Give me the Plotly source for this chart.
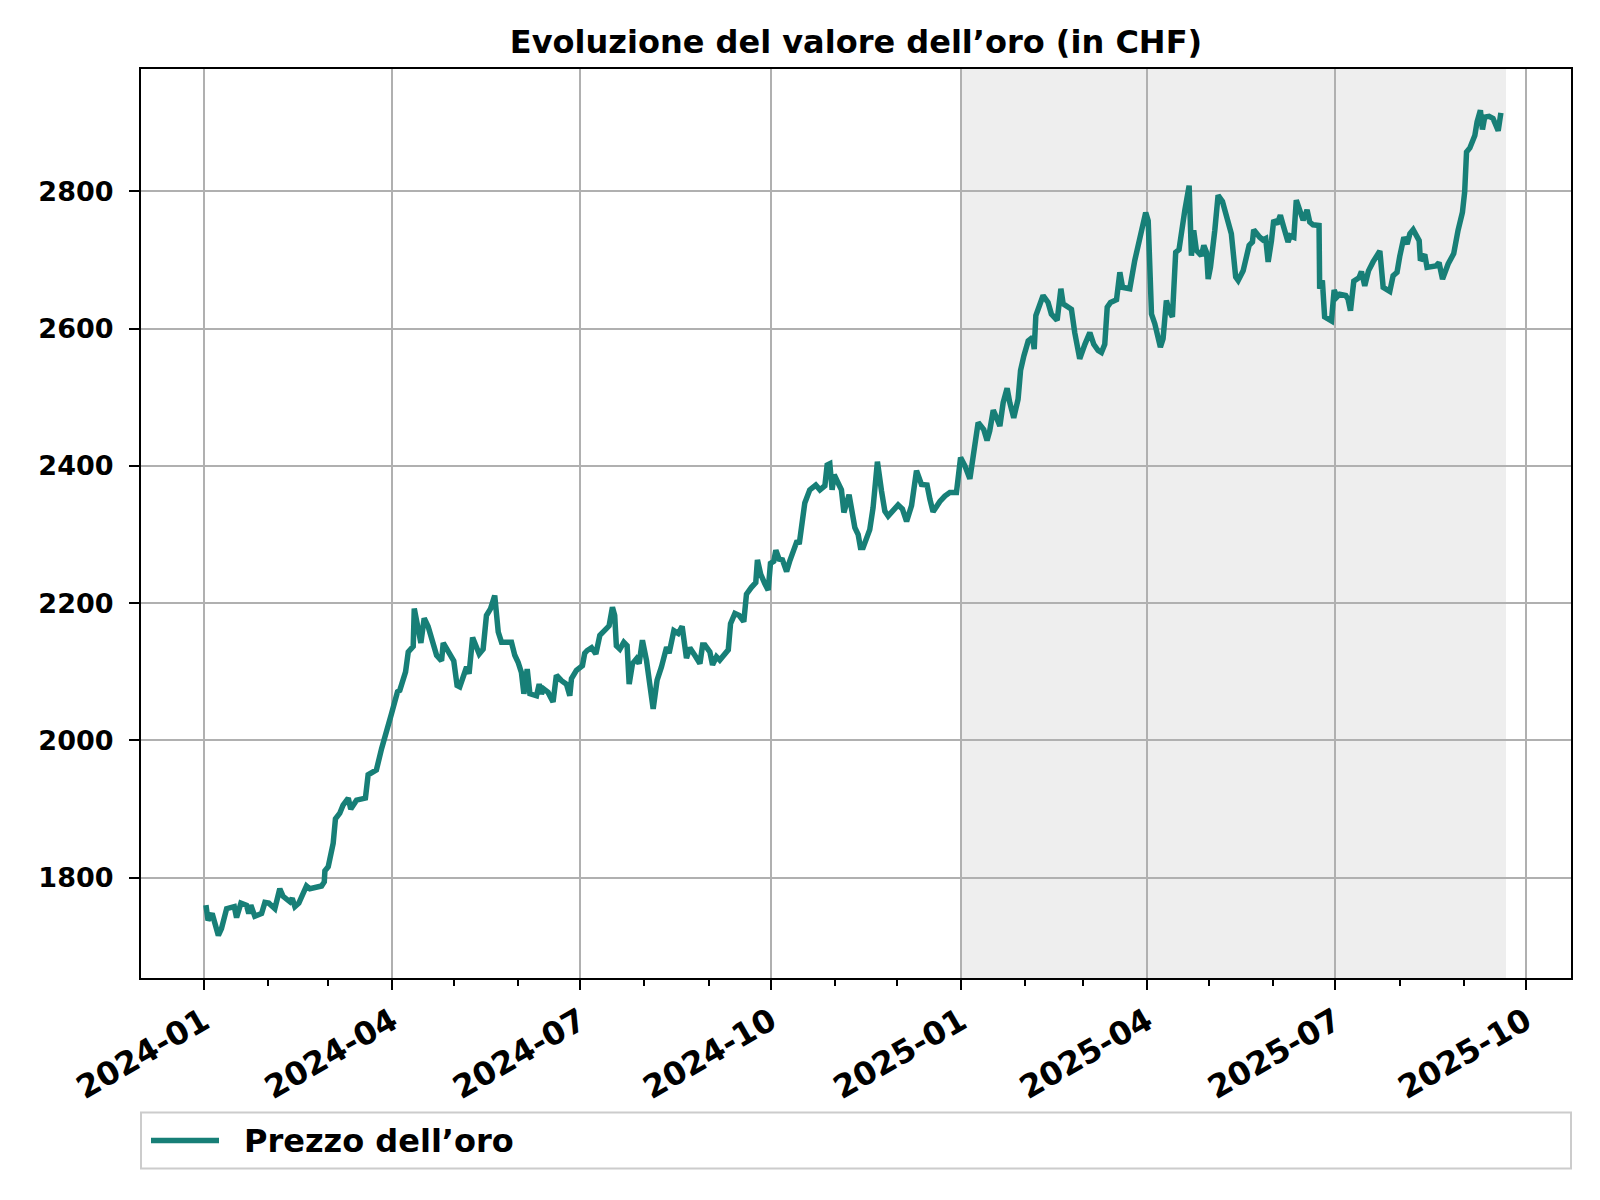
import pandas as pd
import plotly.graph_objects as go

# ---- data ----
# day offsets from 2024-01-01 and gold price in CHF
day_offsets = [
    1, 2, 4, 7, 8.5, 11, 14.7, 15.8, 17.9, 20.6, 21.7, 22.7, 24.6, 27.9, 29.5, 31.4, 34.3, 36.7, 38.3, 41.6,
    42.7, 44, 45.9, 49.6, 51.2, 56.9, 58.2, 58.5, 60.1, 62.5, 63.6, 65.7, 67.3, 69.8, 71, 73.8, 78.1, 79.4,
    83.4, 85.9, 90.7, 93.6, 94.7, 97.5, 98.8, 101.2, 101.7, 103.3, 104.9, 106.5, 108.4,
    112.5, 114.9, 115.7, 119.7, 120.8, 122.4, 123.7, 127, 128.2, 129.9, 131.8, 133.1, 135, 136.6, 138.6,
    140.6, 142.3, 143.9, 148.7, 150.3, 151.9, 153.5, 154.7, 156.3, 157.6, 160.8, 162.1, 163.2, 164.3,
    166.4, 168.8, 170.4, 172.9, 175.3, 176.9, 177.7, 180.1, 183, 184.1, 185.3, 187.4, 189.5, 191.4,
    193.8, 195.9, 197.5, 198.6, 199.4, 201.1, 203, 204.6, 205.6, 207.2, 209.1, 210.4, 212, 214, 217.2,
    219.1, 221.2, 223.7, 224.9, 227.2, 229.3, 231.2, 233.3, 234.9, 237.3, 239.8, 241.1, 242.2, 244.6,
    245.9, 247.8, 249.4, 253.5, 254.6, 256.7, 258.8, 261, 262.3, 264.7, 266.8, 267.6, 269.2, 271.2,
    272.8, 273.9, 275.5, 276.5, 278.1, 279.7, 281.7, 283.3, 285.7, 286.8, 287.8, 288.9, 290.5, 292.9,
    294.5, 295.8, 297.8, 300.2, 301.3, 302.6, 303.7, 304.7, 306.6, 308.2, 309.4, 310.6, 311.9, 313,
    314.7, 316.3, 317.4, 318.7, 321.9, 323.5, 325.6, 327.6, 329.2, 330.8, 333.2,
    335.6, 337.7, 339.7, 342.1, 344.5, 346.9, 349.6, 351, 352.5, 355.8, 358.2, 360.6, 363.8, 365.8,
    367.9, 370.3, 371.9, 374.3, 377, 378.6, 379.9, 381.6, 382.8, 384.8, 386.4, 388.3, 389.6, 391.5,
    393.6, 394.8, 396.4, 398.5, 400.6, 401.4, 402.2, 403.8, 405.7, 408.1, 409.7, 412.5, 414.3, 415.4,
    419.4, 421, 423.4, 425.9, 428.3, 430.2, 432.3, 433.9, 435.5, 436.7, 438.3, 441.2, 442.8, 444.1, 447.6,
    450, 452.4, 455.3, 456.5, 458.1, 459.7, 462.4, 463.7, 465.3, 466.6, 468.2, 469.8, 471.4, 474.2,
    476.3, 477.4, 478.5, 479.8, 482.2, 483.4, 484.7, 485.5, 486.6, 488.7, 490.3, 492.4, 494.3, 496.7,
    498.8, 500, 502.4, 504, 505.3, 506.9, 507.5, 510.4, 512, 513.3, 514.5, 516.1, 517.2, 518.8, 520.4,
    522, 524.1, 525.2, 526.9, 528.1, 529.8, 531.4, 532.7, 533.3, 534.6, 536.2, 539.1, 539.4, 540.7,
    541.8, 545.1, 546.4, 547.8, 549.1, 552, 553.1, 554.3, 555.9, 558.4, 559.6, 561.2, 563, 565.2,
    566.9, 568.5, 570.1, 573.3, 574.9, 576.8, 578.1, 580.1, 581.7, 583, 584.6, 587.5, 588.1, 590.2,
    591.3, 595.5, 597.1, 598.8, 601.5, 604.2, 606.3, 608.4, 609.5, 610.4, 612, 614.4, 615.5, 617.1,
    618.1, 619.2, 621.3, 623.2, 625.7, 627,
]
prices = [
    1760, 1738, 1748, 1716, 1726, 1755, 1758, 1742, 1763, 1760, 1748, 1760, 1744, 1748, 1764, 1763, 1755, 1784, 1773, 1765,
    1770, 1758, 1763, 1788, 1784, 1788, 1794, 1810, 1816, 1850, 1886, 1894, 1906, 1916, 1900, 1913, 1916, 1950,
    1957, 1988, 2039, 2071, 2073, 2100, 2129, 2137, 2192, 2166, 2142, 2178, 2166,
    2124, 2116, 2142, 2119, 2116, 2080, 2078, 2107, 2097, 2150, 2136, 2126, 2133, 2182, 2192,
    2211, 2158, 2143, 2143, 2124, 2114, 2099, 2068, 2104, 2068, 2065, 2082, 2068, 2075,
    2070, 2056, 2095, 2087, 2082, 2065, 2090, 2102, 2109, 2127, 2131, 2135, 2126, 2153,
    2160, 2167, 2194, 2182, 2138, 2133, 2143, 2138, 2082, 2112, 2119, 2112, 2146, 2116, 2046,
    2088, 2107, 2136, 2127, 2160, 2156, 2166, 2120, 2135, 2124, 2112, 2139, 2139, 2129,
    2110, 2122, 2117, 2132, 2170, 2185, 2182, 2173, 2213, 2223, 2230, 2263, 2242, 2228,
    2219, 2258, 2261, 2277, 2264, 2263, 2246, 2262, 2281, 2291, 2286, 2315, 2346, 2365,
    2370, 2372, 2365, 2371, 2401, 2403, 2365, 2387, 2375, 2365, 2332, 2349, 2358, 2339,
    2310, 2300, 2281, 2281, 2307, 2339, 2406, 2363, 2334, 2327, 2334,
    2343, 2337, 2319, 2342, 2393, 2373, 2372, 2351, 2333, 2348, 2356, 2361, 2361, 2412,
    2400, 2381, 2417, 2463, 2453, 2437, 2451, 2481, 2473, 2458, 2492, 2513, 2492, 2470,
    2497, 2539, 2560, 2582, 2587, 2570, 2619, 2631, 2648, 2638, 2621, 2612, 2658, 2636,
    2628, 2594, 2556, 2577, 2594, 2577, 2568, 2565, 2577, 2631, 2638, 2642, 2682, 2660, 2658,
    2699, 2733, 2769, 2757, 2621, 2607, 2573, 2585, 2641, 2626, 2617, 2711, 2715, 2772,
    2808, 2706, 2743, 2714, 2706, 2721, 2711, 2672, 2689, 2743, 2794, 2785, 2762, 2738,
    2675, 2670, 2684, 2701, 2721, 2726, 2744, 2733, 2729, 2731, 2697, 2728, 2758, 2752, 2765,
    2748, 2726, 2735, 2733, 2787, 2774, 2758, 2767, 2773, 2755, 2751, 2750, 2658, 2670,
    2617, 2611, 2656, 2646, 2650, 2648, 2643, 2626, 2669, 2674, 2683, 2662, 2684, 2697,
    2704, 2713, 2660, 2654, 2677, 2682, 2705, 2733, 2723, 2738, 2744, 2728, 2699, 2708,
    2689, 2691, 2696, 2672, 2694, 2709, 2743, 2769, 2799, 2857, 2863, 2881, 2901, 2918,
    2890, 2908, 2909, 2906, 2888, 2914,
]
series_name = "Prezzo dell\u2019oro"
title_text = "Evoluzione del valore dell\u2019oro (in CHF)"
highlight_start = "2025-01-01"
highlight_end_offset = 629.5
x_range_offsets = [-30.4, 660.9]
y_range = [1654, 2978]
y_ticks = [1800, 2000, 2200, 2400, 2600, 2800]

base = pd.Timestamp("2024-01-01")
dates = [base + pd.Timedelta(days=d) for d in day_offsets]
x_range = [base + pd.Timedelta(days=d) for d in x_range_offsets]
highlight_end = base + pd.Timedelta(days=highlight_end_offset)

LINE_COLOR = "#177f77"
GRID = "#b0b0b0"
FONT = "DejaVu Sans"

# plot area in pixels (for placing the legend block below the axes)
PLOT_L, PLOT_R, PLOT_T, PLOT_B = 141, 1571, 69, 977.5
PW, PH = PLOT_R - PLOT_L, PLOT_B - PLOT_T


def px_x(px):
    return (px - PLOT_L) / PW


def px_y(py):
    return (PLOT_B - py) / PH


fig = go.Figure()
fig.add_trace(go.Scatter(
    x=dates, y=prices, mode="lines", name=series_name, showlegend=False,
    line=dict(color=LINE_COLOR, width=5.5),
))

# shaded period
fig.add_shape(type="rect", xref="x", yref="paper", x0=highlight_start, x1=highlight_end,
              y0=0, y1=1, fillcolor="#eeeeee", line=dict(width=0), layer="below")

# legend block below the chart (frame spanning the axes width)
fig.add_shape(type="rect", xref="paper", yref="paper", x0=0, x1=1,
              y0=px_y(1168), y1=px_y(1112),
              fillcolor="white", line=dict(color="#cccccc", width=2), layer="below")
fig.add_shape(type="line", xref="paper", yref="paper", x0=px_x(151), x1=px_x(219),
              y0=px_y(1140), y1=px_y(1140), line=dict(color=LINE_COLOR, width=5.5))
fig.add_annotation(text=series_name, xref="paper", yref="paper", x=px_x(242), y=px_y(1140),
                   xanchor="left", yanchor="middle", showarrow=False,
                   font=dict(family=FONT, size=32, color="black", weight="bold"))

axis_common = dict(
    showgrid=True, gridcolor=GRID, gridwidth=2.2,
    showline=True, linecolor="black", linewidth=2.2, mirror=True,
    ticks="outside", ticklen=10, tickwidth=2.2, tickcolor="black",
    zeroline=False,
)

fig.update_xaxes(
    type="date", range=x_range, dtick="M3", tick0="2024-01-01", tickformat="%Y-%m",
    tickangle=-30, ticklabelstandoff=0,
    tickfont=dict(family=FONT, size=32, color="black", weight="bold"),
    minor=dict(dtick="M1", tick0="2024-01-01", ticks="outside", ticklen=6, tickwidth=1.7,
               tickcolor="black", showgrid=False),
    **axis_common,
)
fig.update_yaxes(range=y_range, tickvals=y_ticks, ticklabelstandoff=10,
                 tickfont=dict(family=FONT, size=27, color="black", weight="bold"),
                 **axis_common)

fig.update_layout(
    width=1600, height=1200, autosize=False,
    margin=dict(l=141, r=29, t=69, b=222, pad=0),
    plot_bgcolor="white", paper_bgcolor="white",
    font=dict(family=FONT, color="black"),
    title=dict(text=title_text, x=0.5, xref="paper", xanchor="center",
               y=1 - 42 / 1200, yref="container", yanchor="middle",
               font=dict(family=FONT, size=32, color="black", weight="bold")),
    showlegend=False,
)

fig.write_html("out.html")
